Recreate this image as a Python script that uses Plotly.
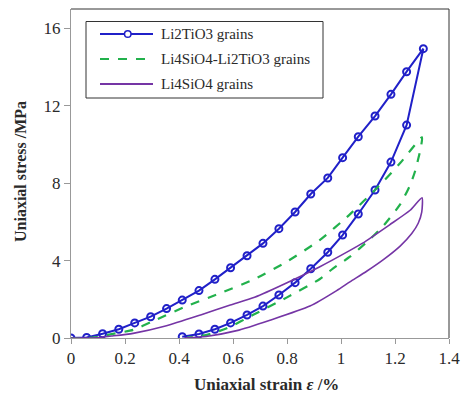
import plotly.graph_objects as go

# Li2TiO3 grains (loading then unloading)
ti_x = [0, 0.058, 0.117, 0.177, 0.236, 0.295, 0.354, 0.412, 0.474, 0.533, 0.591, 0.652, 0.711, 0.770,
        0.830, 0.888, 0.951, 1.006, 1.064, 1.126, 1.185, 1.243, 1.305,
        1.243, 1.185, 1.126, 1.064, 1.006, 0.951, 0.888, 0.830, 0.770, 0.711, 0.652, 0.591, 0.533, 0.474, 0.412]
ti_y = [0, 0.03, 0.22, 0.45, 0.78, 1.1, 1.52, 1.96, 2.45, 3.03, 3.63, 4.25, 4.89, 5.65,
        6.51, 7.44, 8.27, 9.32, 10.4, 11.47, 12.59, 13.76, 14.95,
        11.0, 9.09, 7.65, 6.41, 5.32, 4.43, 3.58, 2.86, 2.22, 1.65, 1.19, 0.78, 0.45, 0.21, 0.07]

# Li4SiO4-Li2TiO3 grains
mix_x = [0, 0.08, 0.15, 0.23, 0.3, 0.42, 0.55, 0.68, 0.8, 0.92, 1.03, 1.14, 1.22, 1.30,
         1.295, 1.274, 1.256, 1.219, 1.157, 1.107, 1.033, 0.971, 0.922, 0.8, 0.675, 0.577, 0.5, 0.43]
mix_y = [0, 0.02, 0.2, 0.42, 0.85, 1.6, 2.3, 3.05, 3.95, 5.05, 6.35, 7.85, 9.05, 10.37,
         9.8, 8.6, 7.9, 6.9, 5.8, 5.1, 4.2, 3.6, 3.05, 2.1, 1.2, 0.5, 0.15, 0.02]

# Li4SiO4 grains
si_x = [0, 0.08, 0.15, 0.23, 0.35, 0.48, 0.59, 0.68, 0.8, 0.92, 1.03, 1.08, 1.18, 1.256, 1.30,
        1.299, 1.286, 1.262, 1.219, 1.157, 1.095, 1.033, 0.984, 0.885, 0.737, 0.614, 0.5, 0.42]
si_y = [0, 0.0, 0.1, 0.24, 0.62, 1.19, 1.7, 2.1, 2.85, 3.67, 4.5, 4.9, 5.85, 6.6, 7.25,
        6.5, 5.93, 5.4, 4.75, 4.05, 3.45, 2.9, 2.45, 1.65, 0.92, 0.38, 0.08, 0.0]

series_names = ["Li2TiO3 grains", "Li4SiO4-Li2TiO3 grains", "Li4SiO4 grains"]
x_ticks = [0, 0.2, 0.4, 0.6, 0.8, 1, 1.2, 1.4]
x_labels = ["0", "0.2", "0.4", "0.6", "0.8", "1", "1.2", "1.4"]
y_ticks = [0, 4, 8, 12, 16]

FONT = "Liberation Serif"
BLUE = "#2020c8"
GREEN = "#22b14c"
PURPLE = "#7535a5"
TXT = "#2a2a2a"

W, H = 461, 393
L, T = 71, 9
R = W - 449
B = H - 338
PW, PH = W - L - R, H - T - B


def px_x(p):  # screen pixel -> paper
    return (p - L) / PW


def px_y(p):
    return (H - B - p) / PH


fig = go.Figure()
fig.add_trace(go.Scatter(x=ti_x, y=ti_y, mode="lines+markers", name=series_names[0],
                         line=dict(color=BLUE, width=2),
                         marker=dict(symbol="circle-open", size=7, color=BLUE,
                                     line=dict(width=2, color=BLUE))))
fig.add_trace(go.Scatter(x=mix_x, y=mix_y, mode="lines", name=series_names[1],
                         line=dict(color=GREEN, width=2.2, dash="dash", shape="spline", smoothing=0.6)))
fig.add_trace(go.Scatter(x=si_x, y=si_y, mode="lines", name=series_names[2],
                         line=dict(color=PURPLE, width=1.6, shape="spline", smoothing=0.6)))

fig.update_layout(
    width=W, height=H,
    margin=dict(l=L, r=R, t=T, b=B),
    paper_bgcolor="white", plot_bgcolor="white",
    font=dict(family=FONT, size=15, color=TXT),
    showlegend=False,
    xaxis=dict(range=[0, 1.4], tickvals=x_ticks, ticktext=x_labels, automargin=False,
               showgrid=False, zeroline=False, showline=True, linecolor="#999", linewidth=1,
               ticks="outside", ticklen=5, tickcolor="#999", ticklabeloverflow="allow",
               tickfont=dict(family=FONT, size=17, color=TXT)),
    yaxis=dict(range=[0, 17], tickvals=y_ticks, automargin=False,
               showgrid=False, zeroline=False, showline=True, linecolor="#999", linewidth=1,
               ticks="outside", ticklen=6, tickcolor="#999",
               tickfont=dict(family=FONT, size=17, color=TXT)),
)
# frame top/right
fig.add_shape(type="line", xref="paper", yref="paper", x0=0, x1=1, y0=1, y1=1,
              line=dict(color="#333", width=1))
fig.add_shape(type="line", xref="paper", yref="paper", x0=1, x1=1, y0=0, y1=1,
              line=dict(color="#333", width=1))

# axis titles
fig.add_annotation(text="<b>Uniaxial strain <i>ε</i> /%</b>", xref="paper", yref="paper",
                   x=px_x(266), y=px_y(384), xanchor="center", yanchor="middle", showarrow=False,
                   font=dict(family=FONT, size=17, color=TXT))
fig.add_annotation(text="<b>Uniaxial stress /MPa</b>", xref="paper", yref="paper",
                   x=px_x(20), y=px_y(172), xanchor="center", yanchor="middle", showarrow=False,
                   textangle=-90, font=dict(family=FONT, size=16, color=TXT))

# legend (drawn manually)
fig.add_shape(type="rect", xref="paper", yref="paper",
              x0=px_x(86), x1=px_x(323), y0=px_y(98), y1=px_y(21.5),
              line=dict(color="#333", width=1), fillcolor="white", layer="above")
rows = [34, 59, 84]
styles = [dict(color=BLUE, width=2), dict(color=GREEN, width=2.2, dash="dash"),
          dict(color=PURPLE, width=1.8)]
for name, ry, st in zip(series_names, rows, styles):
    fig.add_shape(type="line", xref="paper", yref="paper", x0=px_x(100), x1=px_x(153),
                  y0=px_y(ry), y1=px_y(ry), line=st, layer="above")
    fig.add_annotation(text=name, xref="paper", yref="paper", x=px_x(159), y=px_y(ry),
                       xanchor="left", yanchor="middle", showarrow=False,
                       font=dict(family=FONT, size=15, color=TXT))
fig.add_shape(type="circle", xref="paper", yref="paper",
              x0=px_x(124.5), x1=px_x(131), y0=px_y(37.3), y1=px_y(30.7),
              line=dict(color=BLUE, width=1.5), fillcolor="white", layer="above")

fig.write_html("out.html", config={"displayModeBar": False},
               post_script="document.body.style.margin='0';document.body.style.overflow='hidden';")
